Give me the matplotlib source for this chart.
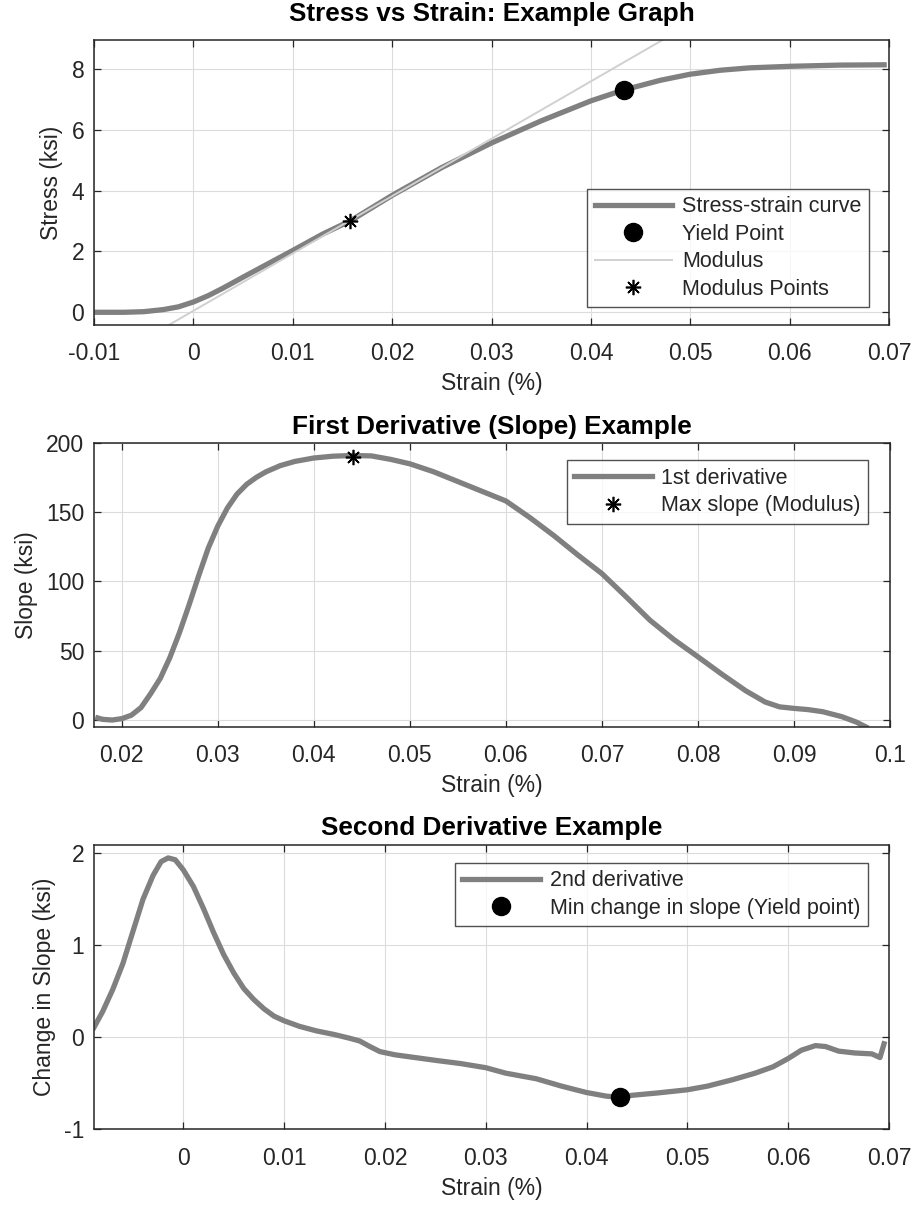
import matplotlib
matplotlib.use("Agg")
import matplotlib.pyplot as plt
from matplotlib.ticker import FuncFormatter

plt.rcParams['font.family'] = ['Liberation Sans', 'DejaVu Sans']

# stress-strain curve
strain = [-0.0100, -0.0070, -0.0050, -0.0030, -0.0015, 0.0000, 0.0015, 0.0030,
          0.0050, 0.0075, 0.0100, 0.0130, 0.0158, 0.0200, 0.0250, 0.0300,
          0.0350, 0.0400, 0.0433, 0.0470, 0.0500, 0.0530, 0.0560, 0.0600,
          0.0650, 0.0695]
stress = [-0.02, -0.02, 0.00, 0.07, 0.16, 0.32, 0.53, 0.78,
          1.14, 1.58, 2.02, 2.56, 3.00, 3.84, 4.76, 5.57,
          6.30, 6.96, 7.32, 7.64, 7.84, 7.97, 8.05, 8.10,
          8.14, 8.15]

yield_x, yield_y = 0.0433, 7.32

# modulus line end points
modulus_x = [-0.0030, 0.0480]
modulus_y = [-0.54, 9.12]
modulus_pts_x = [0.0158]
modulus_pts_y = [3.0]

# first derivative
d1_x = [0.0175, 0.0180, 0.0190, 0.0200, 0.0210, 0.0220, 0.0230, 0.0240,
        0.0250, 0.0260, 0.0270, 0.0280, 0.0290, 0.0300, 0.0310, 0.0320,
        0.0330, 0.0340, 0.0350, 0.0365, 0.0380, 0.0400, 0.0420, 0.0440,
        0.0460, 0.0480, 0.0500, 0.0525, 0.0550, 0.0575, 0.0600, 0.0625,
        0.0650, 0.0675, 0.0700, 0.0725, 0.0750, 0.0775, 0.0800, 0.0825,
        0.0850, 0.0870, 0.0885, 0.0900, 0.0915, 0.0930, 0.0950, 0.0965,
        0.0975]
d1_y = [1.5, 0.5, 0.0, 1.0, 3.5, 9.0, 19.0, 30.0,
        45.0, 63.0, 83.0, 104.0, 124.0, 140.0, 153.0, 163.0,
        170.0, 175.0, 179.0, 183.5, 186.5, 189.0, 190.3, 190.8,
        190.5, 188.0, 184.8, 179.0, 172.0, 165.0, 158.0, 146.0,
        133.0, 119.0, 105.6, 89.0, 72.0, 58.0, 45.6, 33.0,
        21.0, 13.0, 9.5, 8.4, 7.5, 6.0, 2.4, -1.5,
        -5.0]
max_slope_x, max_slope_y = 0.0441, 190.0

# second derivative
d2_x = [-0.00885, -0.0080, -0.0070, -0.0060, -0.0050, -0.0040, -0.0030, -0.0022,
        -0.0015, -0.0008, 0.0000, 0.0010, 0.0020, 0.0030, 0.0040, 0.0050,
        0.0060, 0.0070, 0.0080, 0.0090, 0.0100, 0.0115, 0.0132, 0.0150,
        0.0165, 0.0175, 0.0185, 0.0195, 0.0210, 0.0230, 0.0250, 0.0275,
        0.0300, 0.0320, 0.0350, 0.0375, 0.0400, 0.0420, 0.0433, 0.0445,
        0.0470, 0.0500, 0.0520, 0.0545, 0.0567, 0.0585, 0.0600, 0.0613,
        0.0627, 0.0637, 0.0650, 0.0666, 0.0683, 0.0691, 0.0695]
d2_y = [0.11, 0.28, 0.52, 0.80, 1.15, 1.50, 1.76, 1.91,
        1.95, 1.93, 1.82, 1.64, 1.40, 1.14, 0.90, 0.70,
        0.53, 0.41, 0.31, 0.23, 0.18, 0.12, 0.07, 0.03,
        -0.01, -0.04, -0.10, -0.155, -0.19, -0.22, -0.25, -0.285,
        -0.33, -0.39, -0.45, -0.53, -0.60, -0.64, -0.65, -0.63,
        -0.605, -0.57, -0.53, -0.46, -0.39, -0.32, -0.23, -0.14,
        -0.09, -0.10, -0.15, -0.17, -0.18, -0.22, -0.07]
min_d2_x, min_d2_y = 0.0433, -0.65

curve_col = '#808080'
mod_col = '#d0d0d0'
axis_col = '#262626'
fs = 16.5
lfs = 15.5
tfs = 18.8


def style(ax):
    ax.grid(True, color='#dcdcdc', linewidth=0.8)
    ax.set_axisbelow(True)
    for s in ax.spines.values():
        s.set_color(axis_col)
        s.set_linewidth(1.1)
    ax.tick_params(direction='in', top=True, right=True, length=5,
                   width=0.9, color=axis_col, labelcolor=axis_col,
                   labelsize=fs)
    ax.tick_params(axis='x', pad=12.5)
    ax.tick_params(axis='y', pad=7)
    ax.xaxis.set_major_formatter(FuncFormatter(lambda v, p: '%g' % round(v, 4)))
    ax.yaxis.set_major_formatter(FuncFormatter(lambda v, p: '%g' % round(v, 4)))


def legend(ax, loc, anchor):
    lg = ax.legend(loc=loc, bbox_to_anchor=anchor, fontsize=lfs,
                   frameon=True, fancybox=False, edgecolor=axis_col,
                   handlelength=3.6, handletextpad=0.45, borderpad=0.35,
                   labelspacing=0.3, borderaxespad=0)
    lg.get_frame().set_linewidth(1.0)
    for t in lg.get_texts():
        t.set_color(axis_col)


fig = plt.figure(figsize=(9.16, 12.15), dpi=100)

# stress vs strain
ax1 = fig.add_axes([0.1026, 0.7325, 0.868, 0.2346])
ax1.plot(strain, stress, color=curve_col, linewidth=3.8,
         label='Stress-strain curve')
ax1.plot([yield_x], [yield_y], 'o', color='black', markersize=13,
         label='Yield Point')
ax1.plot(modulus_x, modulus_y, color=mod_col, linewidth=1.4, label='Modulus')
ax1.plot(modulus_pts_x, modulus_pts_y, linestyle='none', marker=(8, 2, 0),
         color='black', markersize=11, markeredgewidth=1.2,
         label='Modulus Points')
ax1.set_xlim(-0.01, 0.07)
ax1.set_ylim(-0.44, 8.97)
ax1.set_xticks([-0.01, 0, 0.01, 0.02, 0.03, 0.04, 0.05, 0.06, 0.07])
ax1.set_yticks([0, 2, 4, 6, 8])
style(ax1)
ax1.set_title('Stress vs Strain: Example Graph', fontsize=tfs,
              fontweight='bold', pad=14)
ax1.set_xlabel('Strain (%)', fontsize=fs, color=axis_col, labelpad=5)
ax1.set_ylabel('Stress (ksi)', fontsize=fs, color=axis_col, labelpad=6)
legend(ax1, 'lower right', (0.9745, 0.062))

# first derivative
ax2 = fig.add_axes([0.1026, 0.4019, 0.869, 0.2337])
ax2.plot(d1_x, d1_y, color=curve_col, linewidth=3.8, label='1st derivative')
ax2.plot([max_slope_x], [max_slope_y], linestyle='none', marker=(8, 2, 0),
         color='black', markersize=11, markeredgewidth=1.2,
         label='Max slope (Modulus)')
ax2.set_xlim(0.0171, 0.1)
ax2.set_ylim(-4.8, 200)
ax2.set_xticks([0.02, 0.03, 0.04, 0.05, 0.06, 0.07, 0.08, 0.09, 0.1])
ax2.set_yticks([0, 50, 100, 150, 200])
style(ax2)
ax2.set_title('First Derivative (Slope) Example', fontsize=tfs,
              fontweight='bold', pad=6)
ax2.set_xlabel('Strain (%)', fontsize=fs, color=axis_col, labelpad=5)
ax2.set_ylabel('Slope (ksi)', fontsize=fs, color=axis_col, labelpad=6)
legend(ax2, 'upper right', (0.973, 0.938))

# second derivative
ax3 = fig.add_axes([0.1026, 0.0705, 0.868, 0.234])
ax3.plot(d2_x, d2_y, color=curve_col, linewidth=3.8, label='2nd derivative')
ax3.plot([min_d2_x], [min_d2_y], 'o', color='black', markersize=13,
         label='Min change in slope (Yield point)')
ax3.set_xlim(-0.00886, 0.07)
ax3.set_ylim(-1, 2.09)
ax3.set_xticks([0, 0.01, 0.02, 0.03, 0.04, 0.05, 0.06, 0.07])
ax3.set_yticks([-1, 0, 1, 2])
style(ax3)
ax3.set_title('Second Derivative Example', fontsize=tfs,
              fontweight='bold', pad=7)
ax3.set_xlabel('Strain (%)', fontsize=fs, color=axis_col, labelpad=5)
ax3.set_ylabel('Change in Slope (ksi)', fontsize=fs, color=axis_col, labelpad=6)
legend(ax3, 'upper right', (0.973, 0.938))

fig.savefig('out.png', dpi=100)
